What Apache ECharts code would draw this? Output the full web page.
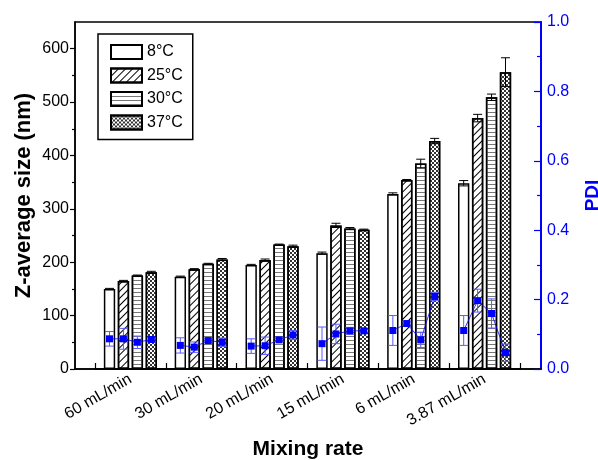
<!DOCTYPE html>
<html>
<head>
<meta charset="utf-8">
<script src="https://cdn.jsdelivr.net/npm/echarts@6/dist/echarts.min.js"></script>
<style>html,body{margin:0;padding:0;background:#fff}#c{width:598px;height:460px}</style>
</head>
<body>
<div id="c"></div>
<script>
const categories = ['60 mL/min','30 mL/min','20 mL/min','15 mL/min','6 mL/min','3.87 mL/min'];
const temps = ['8°C','25°C','30°C','37°C'];
const size8  = [150,173,195,217,328,348];
const size25 = [165,187,204,269,354,470];
const size30 = [175,197,233,263,385,509];
const size37 = [181,205,230,261,427,556];
const sizeErr8  = [1,1,1,2,2,5];
const sizeErr25 = [1,1,2,4,1,7];
const sizeErr30 = [1,1,1,2,8,6];
const sizeErr37 = [2,2,2,1,5,27];
const pdi8  = [0.087,0.068,0.066,0.073,0.111,0.111];
const pdi25 = [0.087,0.063,0.067,0.101,0.131,0.197];
const pdi30 = [0.077,0.082,0.084,0.110,0.084,0.160];
const pdi37 = [0.085,0.077,0.098,0.110,0.209,0.047];
const pdiErr8  = [0.021,0.022,0.021,0.048,0.043,0.043];
const pdiErr25 = [0.030,0.015,0.025,0.028,0.005,0.033];
const pdiErr30 = [0.018,0.005,0.005,0.010,0.022,0.042];
const pdiErr37 = [0.005,0.012,0.013,0.004,0.012,0.025];
const sizeMajorTicks = [0,100,200,300,400,500,600];
const sizeMinorTicks = [50,150,250,350,450,550];

const sizes = [size8,size25,size30,size37];
const sizeErrs = [sizeErr8,sizeErr25,sizeErr30,sizeErr37];

const BAR_FRAC = 0.16, GAP_FRAC = 0.23;
const FONT = 'Liberation Sans, Arial, Helvetica, sans-serif';
const BLUE = '#0000ff';

const decals = [
  null,
  {symbol:'rect', symbolSize:1, color:'#000', dashArrayX:[1,0], dashArrayY:[1,4], rotation:-Math.PI/4},
  {symbol:'rect', symbolSize:1, color:'#777', dashArrayX:[1,0], dashArrayY:[1,3], rotation:0},
  {symbol:'rect', symbolSize:1, color:'#333', dashArrayX:[[2,2],[0,2,2,0]], dashArrayY:[2,0], rotation:0}
];

function barOffset(api, j){
  const band = api.size([1,0])[0];
  const bw = band*BAR_FRAC;
  const pitch = bw*(1+GAP_FRAC);
  return {off:(j-1.5)*pitch, bw:bw};
}

const barSeries = temps.map((t,j)=>{
  const it = {color:'#fff', borderColor:'#000', borderWidth:1.5};
  if (decals[j]) it.decal = decals[j];
  return {name:t, type:'bar', xAxisIndex:1, yAxisIndex:3, data:sizes[j],
    barWidth:(BAR_FRAC*100)+'%', barGap:(GAP_FRAC*100)+'%', itemStyle:it, z:2};
});

const errData = [];
for (let c=0;c<categories.length;c++) for (let j=0;j<4;j++) errData.push([c,j,sizes[j][c],sizeErrs[j][c]]);

const errSeries = {type:'custom', xAxisIndex:1, yAxisIndex:3, z:3, data:errData,
  encode:{x:0,y:2},
  renderItem:function(params, api){
    const c=api.value(0), j=api.value(1), v=api.value(2), e=api.value(3);
    const o = barOffset(api,j);
    const x = api.coord([c,0])[0]+o.off;
    const yt = api.coord([c,v+e])[1], yb = api.coord([c,v-e])[1];
    const hw = 4.5;
    const st = {stroke:'#000', lineWidth:1};
    return {type:'group', children:[
      {type:'line', shape:{x1:x,y1:yt,x2:x,y2:yb}, style:st},
      {type:'line', shape:{x1:x-hw,y1:yt,x2:x+hw,y2:yt}, style:st},
      {type:'line', shape:{x1:x-hw,y1:yb,x2:x+hw,y2:yb}, style:st}
    ]};
  }};

const pdiData = categories.map((_,c)=>[c, pdi8[c], pdi25[c], pdi30[c], pdi37[c], pdiErr8[c], pdiErr25[c], pdiErr30[c], pdiErr37[c]]);

const pdiSeries = {type:'custom', xAxisIndex:1, yAxisIndex:4, z:10, data:pdiData,
  encode:{x:0,y:[1,2,3,4]},
  renderItem:function(params, api){
    const c=api.value(0);
    const cx = api.coord([c,0])[0];
    const pts=[], children=[];
    const ebStyle = {stroke:'#5a5aff', lineWidth:1};
    for (let j=0;j<4;j++){
      const v=api.value(1+j), e=api.value(5+j);
      const x = cx + barOffset(api,j).off;
      const y = api.coord([c,v])[1];
      const yt = api.coord([c,v+e])[1], yb = api.coord([c,v-e])[1];
      pts.push([x,y]);
      const hw=4.5;
      children.push({type:'line', shape:{x1:x,y1:yt,x2:x,y2:yb}, style:ebStyle});
      children.push({type:'line', shape:{x1:x-hw,y1:yt,x2:x+hw,y2:yt}, style:ebStyle});
      children.push({type:'line', shape:{x1:x-hw,y1:yb,x2:x+hw,y2:yb}, style:ebStyle});
    }
    children.unshift({type:'polyline', shape:{points:pts}, style:{stroke:BLUE, lineWidth:0.8, fill:null}});
    pts.forEach(p=>children.push({type:'rect', shape:{x:p[0]-3.5,y:p[1]-3.5,width:7,height:7}, style:{fill:BLUE}}));
    return {type:'group', children:children};
  }};

const chart = echarts.init(document.getElementById('c'), null, {renderer:'canvas'});
chart.setOption({
  animation:false,
  textStyle:{fontFamily:FONT},
  grid:[
    {left:75, right:57, top:22, bottom:91, show:true, borderColor:'#000', borderWidth:1.5, backgroundColor:'transparent', containLabel:false, outerBoundsMode:'none'},
    {left:95, right:78, top:22, bottom:91, containLabel:false, outerBoundsMode:'none'}
  ],
  legend:{data:temps, orient:'vertical', left:98, top:34, padding:[10,10,9,12], icon:'rect',
    itemWidth:31, itemHeight:14, itemGap:7.5, borderColor:'#000', borderWidth:1.5,
    textStyle:{fontSize:16, color:'#000', fontFamily:FONT}},
  xAxis:[
    {gridIndex:0, type:'value', min:0, max:1, axisLine:{show:true, lineStyle:{color:'#000', width:1.5}},
      axisTick:{show:false}, axisLabel:{show:false}, splitLine:{show:false},
      name:'Mixing rate', nameLocation:'middle', nameGap:70, nameMoveOverlap:false,
      nameTextStyle:{fontSize:21, fontWeight:'bold', color:'#000', fontFamily:FONT}},
    {gridIndex:1, type:'category', data:categories,
      axisLine:{show:true, lineStyle:{color:'#000', width:1.5}},
      axisTick:{show:true, inside:true, length:6, lineStyle:{color:'#000', width:1.2}},
      axisLabel:{rotate:30, fontSize:16, margin:9, color:'#000', fontFamily:FONT},
      splitLine:{show:false}}
  ],
  yAxis:[
    {gridIndex:0, type:'value', position:'left', min:0, max:650, interval:100,
      axisLine:{show:true, lineStyle:{color:'#000', width:1.5}},
      axisTick:{show:true, inside:false, length:5, customValues:sizeMajorTicks, lineStyle:{color:'#000', width:1.2}},
      axisLabel:{fontSize:16, color:'#000', margin:6, fontFamily:FONT, customValues:sizeMajorTicks},
      splitLine:{show:false},
      name:'Z-average size (nm)', nameLocation:'middle', nameGap:40, nameMoveOverlap:false,
      nameTextStyle:{fontSize:22, fontWeight:'bold', color:'#000', fontFamily:FONT}},
    {gridIndex:0, type:'value', position:'left', min:0, max:650, interval:50,
      axisLine:{show:false}, axisLabel:{show:false}, splitLine:{show:false},
      axisTick:{show:true, inside:false, length:3, customValues:sizeMinorTicks, lineStyle:{color:'#000', width:1.2}}},
    {gridIndex:0, type:'value', position:'right', min:0, max:1, interval:0.2,
      axisLine:{show:true, lineStyle:{color:BLUE, width:2}},
      axisTick:{show:true, inside:true, length:7, lineStyle:{color:BLUE, width:1.2}},
      minorTick:{show:true, splitNumber:2, length:4, lineStyle:{color:BLUE, width:1.2}},
      axisLabel:{fontSize:16, color:BLUE, margin:6, fontFamily:FONT, formatter:function(v){return v.toFixed(1);}},
      splitLine:{show:false},
      name:'PDI', nameLocation:'middle', nameGap:42, nameMoveOverlap:false,
      nameTextStyle:{fontSize:19, fontWeight:'bold', color:BLUE, fontFamily:FONT}},
    {gridIndex:1, type:'value', min:0, max:650, show:false},
    {gridIndex:1, type:'value', min:0, max:1, show:false}
  ],
  series:[...barSeries, errSeries, pdiSeries]
});
</script>
</body>
</html>
